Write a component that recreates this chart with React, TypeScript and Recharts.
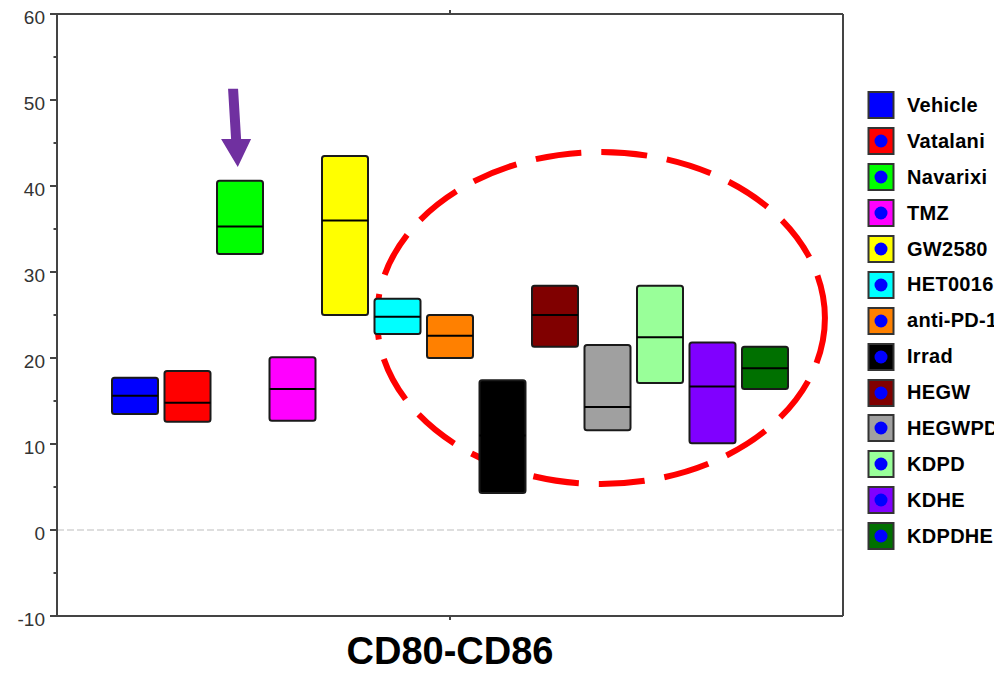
import React from "react";
import { BarChart, Bar, XAxis, YAxis, ReferenceLine, ReferenceArea, Legend } from "recharts";

const FONT = "'Liberation Sans', Arial, Helvetica, sans-serif";

const categories = ["CD80-CD86"];
const seriesNames = ["Vehicle", "Vatalani", "Navarixi", "TMZ", "GW2580", "HET0016", "anti-PD-1", "Irrad", "HEGW", "HEGWPD", "KDPD", "KDHE", "KDPDHE"];
const seriesColors = ["#0000FF", "#FF0000", "#00FF00", "#FF00FF", "#FFFF00", "#00FFFF", "#FF8000", "#000000", "#800000", "#A0A0A0", "#99FF99", "#8000FF", "#007000"];
const lowValues = [13.5, 12.6, 32.1, 12.7, 25.0, 22.8, 20.0, 4.3, 21.3, 11.6, 17.1, 10.1, 16.4];
const highValues = [17.7, 18.5, 40.6, 20.1, 43.5, 26.9, 25.0, 17.4, 28.4, 21.5, 28.4, 21.8, 21.3];
const medianValues = [15.6, 14.8, 35.3, 16.4, 36.0, 24.8, 22.6, 11.0, 25.0, 14.3, 22.4, 16.7, 18.8];
const yTicks = [-10, -5, 0, 5, 10, 15, 20, 25, 30, 35, 40, 45, 50, 55, 60];
const yLabelTicks = [-10, 0, 10, 20, 30, 40, 50, 60];

// annotation ranges (in data units)
const ellipseRange = [5.35, 43.95];
const arrowRange = [42.2, 51.3];

const data = categories.map((cat) => {
  const row: any = { cat };
  seriesNames.forEach((_, i) => {
    row["s" + i] = [lowValues[i], highValues[i]];
    row["m" + i] = medianValues[i];
  });
  return row;
});

const makeShape = (i: number) => (props: any) => {
  const { x, y, width, height } = props;
  const top = Math.min(y, y + height);
  const h = Math.abs(height);
  const lo = lowValues[i];
  const hi = highValues[i];
  const med = medianValues[i];
  const my = top + (h * (hi - med)) / (hi - lo);
  return (
    <g>
      <rect x={x} y={top} width={width} height={h} rx={2.5} ry={2.5} fill={seriesColors[i]} stroke="#1a1a1a" strokeWidth={2} />
      <line x1={x} x2={x + width} y1={my} y2={my} stroke="#000" strokeWidth={2} />
    </g>
  );
};

const LeftTick = (props: any) => {
  const { x, y, payload } = props;
  const v = payload.value;
  const major = yLabelTicks.includes(v);
  return (
    <g>
      <line x1={x} x2={x - (major ? 7 : 3.5)} y1={y} y2={y} stroke="#444" strokeWidth={2} />
      {major && (
        <text x={x - 12} y={y} dy="0.5em" textAnchor="end" fontSize={19} fill="#333" fontFamily={FONT}>
          {v}
        </text>
      )}
    </g>
  );
};

const RightTick = (props: any) => {
  const { x, y, payload } = props;
  const major = yLabelTicks.includes(payload.value);
  return <line x1={x} x2={x + (major ? 7 : 3.5)} y1={y} y2={y} stroke="#444" strokeWidth={2} />;
};

const BottomTick = (props: any) => {
  const { x, y, payload } = props;
  return (
    <g>
      <line x1={x} x2={x} y1={y} y2={y + 4} stroke="#444" strokeWidth={2} />
      <text x={x} y={y + 48} textAnchor="middle" fontSize={38} fontWeight="bold" fill="#000" fontFamily={FONT}>
        {payload.value}
      </text>
    </g>
  );
};

const TopTick = (props: any) => {
  const { x, y } = props;
  return <line x1={x} x2={x} y1={y} y2={y - 4} stroke="#444" strokeWidth={2} />;
};

const EllipseShape = (props: any) => {
  const { x, y, width, height } = props;
  const cx = x + width * 0.692;
  const rx = width * 0.285;
  return (
    <ellipse cx={cx} cy={y + height / 2} rx={rx} ry={height / 2} fill="none" stroke="#FF0000" strokeWidth={6} strokeDasharray="46 20" />
  );
};

const ArrowShape = (props: any) => {
  const { x, y, width, height } = props;
  const topX = x + width * 0.224;
  const tipX = x + width * 0.23;
  const baseY = y + height * 0.64;
  const baseX = topX + (tipX - topX) * 0.64;
  const pts = [
    [topX - 5, y],
    [topX + 5, y],
    [baseX + 5, baseY],
    [baseX + 15, baseY],
    [tipX, y + height],
    [baseX - 15, baseY],
    [baseX - 5, baseY],
  ]
    .map((p) => p.join(","))
    .join(" ");
  return <polygon points={pts} fill="#7030A0" />;
};

const LegendContent = (props: any) => {
  const pl: any[] = props.payload || [];
  const entries = seriesNames.map((n, i) => {
    const found = pl.find((e: any) => e.value === n);
    return { value: n, color: found && found.color ? found.color : seriesColors[i] };
  });
  return (
    <div style={{ fontFamily: FONT, fontWeight: "bold", fontSize: 20, color: "#000" }}>
      {entries.map((e: any, i: number) => (
        <div key={i} style={{ display: "flex", alignItems: "center", height: 35.9, whiteSpace: "nowrap" }}>
          <svg width={28} height={28} style={{ flex: "none" }}>
            <rect x={1.5} y={1} width={25} height={26} fill={e.color} stroke="#333" strokeWidth={2} />
            <circle cx={14} cy={14} r={6.5} fill="#0000FF" />
          </svg>
          <span style={{ marginLeft: 12, letterSpacing: 0.3 }}>{e.value}</span>
        </div>
      ))}
    </div>
  );
};

export default function App() {
  return (
    <div style={{ width: 994, height: 660, position: "relative" }}>
      <BarChart width={994} height={668} data={data} margin={{ top: 5, right: 151, bottom: 8, left: 0 }} barSize={46} barGap={6.5}>
        <XAxis dataKey="cat" type="category" height={52} tickSize={0} tickMargin={0} tick={<BottomTick />} axisLine={{ stroke: "#444", strokeWidth: 2 }} tickLine={false} />
        <XAxis xAxisId="top" dataKey="cat" type="category" orientation="top" height={1} tickSize={0} tickMargin={0} tick={<TopTick />} axisLine={{ stroke: "#444", strokeWidth: 2 }} tickLine={false} />
        <YAxis type="number" domain={[-10, 60]} ticks={yTicks} interval={0} width={49} tickSize={0} tickMargin={0} tick={<LeftTick />} axisLine={{ stroke: "#444", strokeWidth: 2 }} tickLine={false} />
        <YAxis yAxisId="right" orientation="right" type="number" domain={[-10, 60]} ticks={yTicks} interval={0} width={8} tickSize={0} tickMargin={0} tick={<RightTick />} axisLine={{ stroke: "#444", strokeWidth: 2 }} tickLine={false} />
        <ReferenceLine y={60} stroke="#444" strokeWidth={2} ifOverflow="visible" />
        <ReferenceLine y={0} stroke="#bdbdbd" strokeDasharray="7 3" strokeWidth={1} />
        {seriesNames.map((n, i) => (
          <Bar key={n} dataKey={"s" + i} name={n} fill={seriesColors[i]} isAnimationActive={false} shape={makeShape(i)} />
        ))}
        <ReferenceArea y1={ellipseRange[0]} y2={ellipseRange[1]} shape={EllipseShape} ifOverflow="visible" />
        <ReferenceArea y1={arrowRange[0]} y2={arrowRange[1]} shape={ArrowShape} ifOverflow="visible" />
        <Legend layout="vertical" align="center" verticalAlign="middle" content={LegendContent} wrapperStyle={{ left: 859, top: 79.5, width: 135, overflow: "hidden" }} />
      </BarChart>
    </div>
  );
}
